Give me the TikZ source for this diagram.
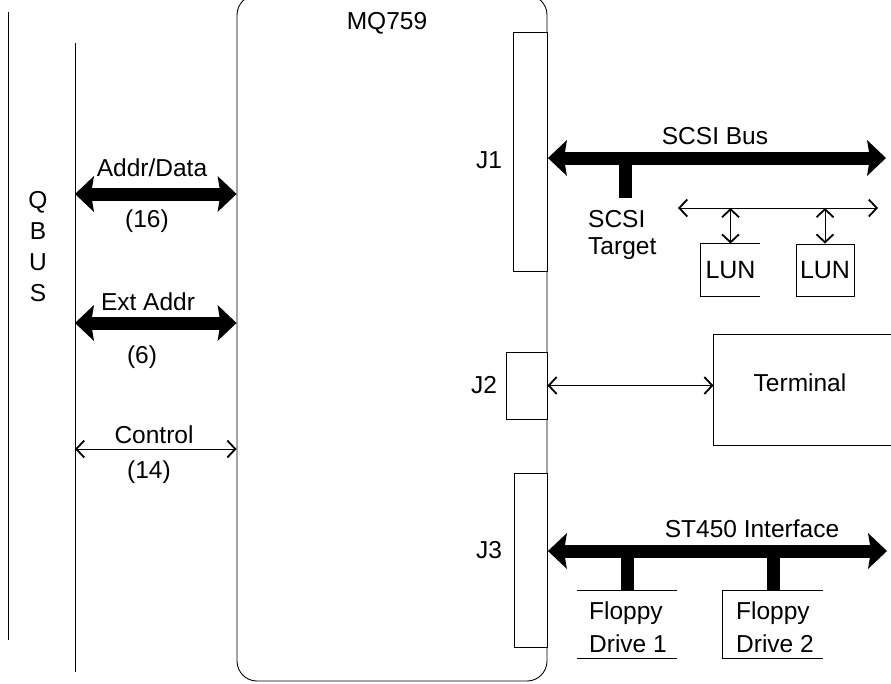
\documentclass[tikz,border=0pt]{standalone}
\usepackage{fontspec}
\setmainfont{Liberation Sans}
\usetikzlibrary{arrows.meta}
\begin{document}
\begin{tikzpicture}[x=1pt,y=-1pt,
  lbl/.style={font=\fontsize{24.5}{28}\selectfont, inner sep=0pt, anchor=base},
  lblw/.style={font=\fontsize{24.5}{28}\selectfont, inner sep=0pt, anchor=base west},
  thinline/.style={line width=0.9pt},
  bus/.style={line width=13pt, arrows={Stealth[length=19pt,width=36pt,inset=3pt,line width=0pt]-Stealth[length=19pt,width=36pt,inset=3pt,line width=0pt]}},
  stem/.style={line width=13pt},
  sig/.style={line width=0.9pt, arrows={Straight Barb[length=8pt,width=17pt,line width=1.8pt]-Straight Barb[length=8pt,width=17pt,line width=1.8pt]}},
  box/.style={thinline, inner sep=0pt},
]
\useasboundingbox (0,0) rectangle (891,683);

% board
\node[draw, box, rounded corners=20pt, minimum width=310pt, minimum height=686pt] (board) at (392,338) {};
\node[lbl] (mq) at (387,29) {MQ759};

% connectors on board
\node[draw, box, fill=white, minimum width=34pt, minimum height=239pt] (j1) at (530.5,151.5) {};
\node[draw, box, fill=white, minimum width=41pt, minimum height=67pt] (j2) at (526.5,385.5) {};
\node[draw, box, fill=white, minimum width=33pt, minimum height=174pt] (j3) at (531,560) {};
\node[lbl] (j1l) at (489,168) {J1};
\node[lbl] (j2l) at (484,393) {J2};
\node[lbl] (j3l) at (489,558) {J3};

% QBUS
\coordinate (qo1) at (8,12);
\coordinate (qo2) at (8,640);
\coordinate (qi1) at (75,43);
\coordinate (qi2) at (75,672);
\draw[thinline] (qo1) -- (qo2);
\draw[thinline] (qi1) -- (qi2);
\node[lbl] (q) at (38,208) {Q};
\node[lbl] (b) at (38,239) {B};
\node[lbl] (u) at (38,270) {U};
\node[lbl] (s) at (38,301) {S};

% QBUS signals
\coordinate (ad) at (75,194);
\draw[bus] (ad) -- (ad -| board.west);
\node[lbl] (adl) at (152,176) {Addr/Data};
\node[lbl] (adn) at (147,227) {(16)};

\coordinate (ea) at (75,323);
\draw[bus] (ea) -- (ea -| board.west);
\node[lbl] (eal) at (148,310) {Ext Addr};
\node[lbl] (ean) at (142,363) {(6)};

\coordinate (ct) at (75,449);
\draw[sig] (ct) -- (ct -| board.west);
\node[lbl] (ctl) at (154,443) {Control};
\node[lbl] (ctn) at (149,478) {(14)};

% SCSI bus
\coordinate (scsiR) at (886,158);
\draw[bus] (j1.east |- scsiR) -- (scsiR);
\node[lbl] (scsil) at (715,144) {SCSI Bus};
\coordinate (tgt) at (625,198);
\draw[stem] (tgt |- scsiR) -- (tgt);
\node[lblw] (tg1) at (588,227) {SCSI};
\node[lblw] (tg2) at (588,254) {Target};

% LUNs
\coordinate (lunL) at (678,208);
\coordinate (lunR) at (878,208);
\draw[sig] (lunL) -- (lunR);
\node[box, minimum width=59pt, minimum height=52pt, font=\fontsize{25}{28}\selectfont] (lun1) at (730.5,270) {LUN};
\draw[thinline] (lun1.north east) -- (lun1.north west) -- (lun1.south west) -- (lun1.south east);
\node[draw, box, minimum width=58pt, minimum height=52pt, font=\fontsize{25}{28}\selectfont] (lun2) at (825,270) {LUN};
\draw[sig] (lunL -| lun1.north) -- (lun1.north);
\draw[sig] (lunL -| lun2.north) -- (lun2.north);

% Terminal
\node[box, minimum width=177pt, minimum height=110pt] (term) at (802.5,390) {};
\draw[thinline] (term.north east) -- (term.north west) -- (term.south west) -- (term.south east);
\node[lbl] (terml) at (800,391) {Terminal};
\draw[sig] (j2.east) -- (j2.east -| term.west);

% ST450
\coordinate (stR) at (887,551);
\draw[bus] (j3.east |- stR) -- (stR);
\node[lbl] (stl) at (752,537) {ST450 Interface};
\node[box, minimum width=100pt, minimum height=67pt] (fd1) at (627,624.5) {};
\node[box, minimum width=100pt, minimum height=67pt] (fd2) at (773,624.5) {};
\draw[thinline] (fd1.north west) -- (fd1.north east);
\draw[thinline] (fd1.south west) -- (fd1.south east);
\draw[thinline] (fd2.north east) -- (fd2.north west) -- (fd2.south west) -- (fd2.south east);
\draw[stem] (fd1.north |- stR) -- (fd1.north);
\draw[stem] (fd2.north |- stR) -- (fd2.north);
\node[lblw] (fd1a) at (589,619) {Floppy};
\node[lblw] (fd1b) at (589,652) {Drive 1};
\node[lblw] (fd2a) at (736,619) {Floppy};
\node[lblw] (fd2b) at (736,652) {Drive 2};
\end{tikzpicture}
\end{document}
